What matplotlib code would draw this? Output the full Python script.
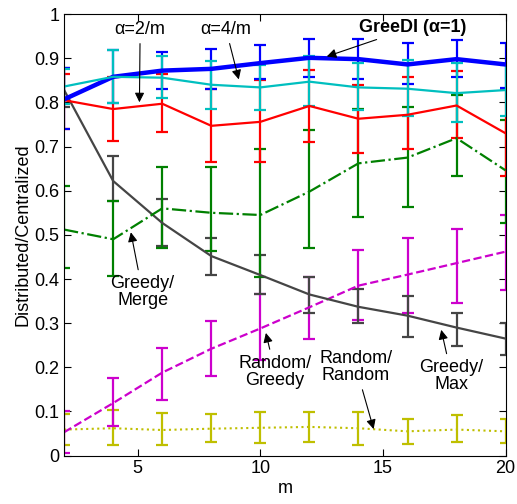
import numpy as np
import matplotlib
matplotlib.use("Agg")
import matplotlib.pyplot as plt

plt.rcParams['font.family'] = ['Liberation Sans', 'DejaVu Sans']

# data
m = [2, 4, 6, 8, 10, 12, 14, 16, 18, 20]

greedi = [0.807, 0.858, 0.872, 0.876, 0.889, 0.901, 0.898, 0.886, 0.898, 0.886]
greedi_lo = [0.739, 0.798, 0.830, 0.830, 0.853, 0.858, 0.852, 0.841, 0.858, 0.832]
greedi_hi = [0.877, 0.919, 0.915, 0.921, 0.929, 0.944, 0.943, 0.935, 0.941, 0.934]

a4 = [0.836, 0.858, 0.856, 0.840, 0.834, 0.847, 0.834, 0.831, 0.821, 0.828]
a4_lo = [0.797, 0.799, 0.809, 0.786, 0.782, 0.791, 0.783, 0.769, 0.756, 0.769]
a4_hi = [0.876, 0.918, 0.904, 0.893, 0.885, 0.904, 0.889, 0.897, 0.890, 0.884]

a2 = [0.805, 0.785, 0.797, 0.747, 0.756, 0.792, 0.763, 0.772, 0.793, 0.730]
a2_lo = [0.739, 0.713, 0.732, 0.666, 0.664, 0.711, 0.685, 0.694, 0.720, 0.634]
a2_hi = [0.865, 0.857, 0.864, 0.830, 0.851, 0.874, 0.840, 0.857, 0.872, 0.830]

merge = [0.512, 0.490, 0.560, 0.550, 0.545, 0.598, 0.662, 0.675, 0.719, 0.646]
merge_lo = [0.424, 0.407, 0.470, 0.463, 0.405, 0.471, 0.540, 0.564, 0.633, 0.527]
merge_hi = [0.611, 0.576, 0.653, 0.653, 0.694, 0.737, 0.784, 0.790, 0.817, 0.760]

gmax = [0.828, 0.622, 0.527, 0.452, 0.409, 0.365, 0.337, 0.317, 0.290, 0.265]
gmax_lo = [0.790, 0.576, 0.475, 0.409, 0.365, 0.323, 0.300, 0.269, 0.249, 0.228]
gmax_hi = [0.877, 0.679, 0.581, 0.494, 0.455, 0.405, 0.377, 0.361, 0.324, 0.300]

rgreedy = [0.053, 0.119, 0.188, 0.242, 0.288, 0.336, 0.385, 0.410, 0.436, 0.462]
rgreedy_lo = [0.005, 0.067, 0.126, 0.181, 0.217, 0.265, 0.307, 0.322, 0.345, 0.375]
rgreedy_hi = [0.100, 0.175, 0.244, 0.305, 0.365, 0.405, 0.465, 0.494, 0.513, 0.546]

rrand = [0.059, 0.062, 0.058, 0.061, 0.063, 0.065, 0.062, 0.055, 0.059, 0.055]
rrand_lo = [0.025, 0.025, 0.025, 0.030, 0.028, 0.030, 0.025, 0.026, 0.030, 0.028]
rrand_hi = [0.094, 0.103, 0.096, 0.094, 0.099, 0.099, 0.099, 0.082, 0.092, 0.082]


def yerr(v, lo, hi):
    v = np.array(v)
    return [v - np.array(lo), np.array(hi) - v]


fig = plt.figure(figsize=(5.17, 5.04), dpi=100)
ax = fig.add_axes([0.124, 0.096, 0.854, 0.876])

series = [
    (rrand, rrand_lo, rrand_hi, (0.75, 0.75, 0.0), ':', 1.5),
    (rgreedy, rgreedy_lo, rgreedy_hi, (0.8, 0.0, 0.8), '--', 1.6),
    (gmax, gmax_lo, gmax_hi, (0.27, 0.27, 0.27), '-', 1.6),
    (merge, merge_lo, merge_hi, (0.0, 0.5, 0.0), '-.', 1.6),
    (a2, a2_lo, a2_hi, (1.0, 0.0, 0.0), '-', 1.6),
    (greedi, greedi_lo, greedi_hi, (0.0, 0.0, 1.0), '-', 3.2),
    (a4, a4_lo, a4_hi, (0.0, 0.75, 0.75), '-', 1.6),
]
for v, lo, hi, col, ls, lw in series:
    ax.errorbar(m, v, yerr=yerr(v, lo, hi), color=col, ls=ls, lw=lw,
                elinewidth=1.6, capsize=4, capthick=1.6)

ax.set_xlim(2, 20)
ax.set_ylim(0, 1)
ax.set_xticks([5, 10, 15, 20])
ax.set_yticks(np.arange(0, 1.01, 0.1))
ax.set_yticklabels(['0', '0.1', '0.2', '0.3', '0.4', '0.5', '0.6', '0.7', '0.8', '0.9', '1'])
ax.tick_params(direction='in', top=True, right=True, labelsize=13, length=5)
ax.set_xlabel('m', fontsize=13, labelpad=2)
ax.set_ylabel('Distributed/Centralized', fontsize=13, labelpad=2)

arrow = dict(arrowstyle='-|>', color='k', lw=0.8, mutation_scale=14)
fs = 13
ax.annotate('α=2/m', xy=(5.07, 0.794), xytext=(5.1, 0.965), fontsize=fs,
            ha='center', va='center', arrowprops=arrow)
ax.annotate('α=4/m', xy=(9.15, 0.846), xytext=(8.6, 0.965), fontsize=fs,
            ha='center', va='center', arrowprops=arrow)
ax.annotate('GreeDI (α=1)', xy=(12.6, 0.902), xytext=(16.2, 0.97), fontsize=fs,
            fontweight='bold', ha='center', va='center', arrowprops=arrow)
ax.annotate('Greedy/\nMerge', xy=(4.7, 0.512), xytext=(5.2, 0.37), fontsize=fs,
            ha='center', va='center', linespacing=1.0, arrowprops=arrow)
ax.annotate('Random/\nGreedy', xy=(10.2, 0.284), xytext=(10.6, 0.19), fontsize=fs,
            ha='center', va='center', linespacing=1.0, arrowprops=arrow)
ax.annotate('Random/\nRandom', xy=(14.65, 0.054), xytext=(13.9, 0.2), fontsize=fs,
            ha='center', va='center', linespacing=1.0, arrowprops=arrow)
ax.annotate('Greedy/\nMax', xy=(17.35, 0.291), xytext=(17.8, 0.18), fontsize=fs,
            ha='center', va='center', linespacing=1.0, arrowprops=arrow)

fig.savefig('out.png', dpi=100)
